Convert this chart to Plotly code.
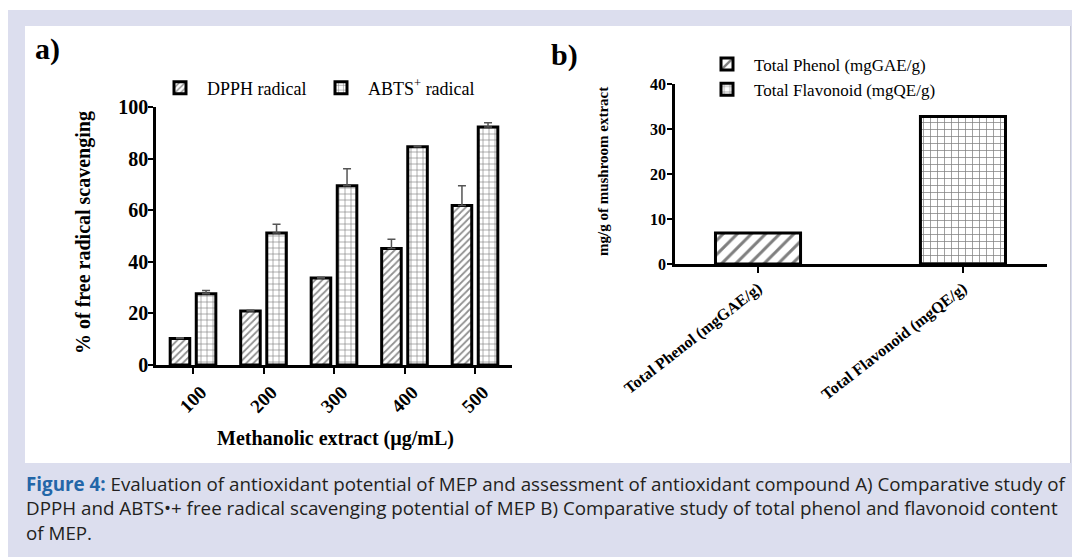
import plotly.graph_objects as go

# ---------------- data ----------------
concentrations = ["100", "200", "300", "400", "500"]
dpph = [10.3, 20.9, 33.7, 45.2, 61.8]
dpph_err = [0.3, 0.3, 0.3, 3.5, 7.7]
abts = [27.6, 51.2, 69.5, 84.6, 92.2]
abts_err = [1.3, 3.4, 6.6, 0.4, 1.7]

b_categories = ["Total Phenol (mgGAE/g)", "Total Flavonoid (mgQE/g)"]
b_values = [6.9, 32.8]

W, H = 1072, 558
def X(px): return px / W
def Y(py): return 1 - py / H

SERIF = "Liberation Serif"
LAV = "#dcdeee"

fig = go.Figure()

# ---------- panel a ----------
fig.add_trace(go.Bar(
    x=concentrations, y=dpph, name="DPPH radical",
    xaxis="x", yaxis="y", legend="legend",
    marker=dict(color="white", line=dict(color="black", width=3),
                pattern=dict(shape="/", fgcolor="#222", bgcolor="white", size=5, solidity=0.35)),
    error_y=dict(type="data", symmetric=False, array=dpph_err, arrayminus=[0]*5,
                 color="#555", thickness=1.5, width=4),
))
fig.add_trace(go.Bar(
    x=concentrations, y=abts, name="ABTS<sup>+</sup> radical",
    xaxis="x", yaxis="y", legend="legend2",
    marker=dict(color="white", line=dict(color="black", width=3),
                pattern=dict(shape="+", fgcolor="black", bgcolor="white", size=6, solidity=0.2)),
    error_y=dict(type="data", symmetric=False, array=abts_err, arrayminus=[0]*5,
                 color="#555", thickness=1.5, width=4),
))

# ---------- panel b ----------
b_shapes = ["/", "+"]
b_sizes = [10, 7]
b_sol = [0.3, 0.2]
for i, cat in enumerate(b_categories):
    fig.add_trace(go.Bar(
        x=[cat], y=[b_values[i]], name=cat,
        xaxis="x2", yaxis="y2", legend="legend3",
        offsetgroup="b", width=0.415,
        marker=dict(color="white", line=dict(color="black", width=3),
                    pattern=dict(shape=b_shapes[i], fgcolor="black", bgcolor="white",
                                 size=b_sizes[i], solidity=b_sol[i])),
    ))

axis_common = dict(showline=True, linecolor="black", linewidth=2.5, ticks="outside",
                   tickcolor="black", tickwidth=2, showgrid=False, zeroline=False,
                   automargin=False)

legend_common = dict(xanchor="left", yanchor="middle", bgcolor="rgba(0,0,0,0)", itemwidth=44)

fig.update_layout(
    width=W, height=H,
    margin=dict(l=0, r=0, t=0, b=0, autoexpand=False),
    paper_bgcolor="white", plot_bgcolor="rgba(0,0,0,0)",
    barmode="group", bargap=0.26, bargroupgap=0.25,
    xaxis=dict(domain=[X(156), X(512)], range=[-0.525, 4.525], type="category",
               anchor="y", tickangle=-45, ticklen=6, ticklabelshift=8,
               tickfont=dict(family=SERIF, size=19, color="black", weight="bold"),
               **axis_common),
    yaxis=dict(domain=[Y(365), Y(107)], range=[0, 100], anchor="x",
               tickvals=[0, 20, 40, 60, 80, 100], ticklen=5, ticklabelstandoff=-4,
               tickfont=dict(family=SERIF, size=20, color="black", weight="bold"),
               **axis_common),
    xaxis2=dict(domain=[X(675), X(1047)], range=[-0.405, 1.41], type="category",
                anchor="y2", tickangle=-38, ticklen=6,
                tickfont=dict(family=SERIF, size=16, color="black", weight="bold"),
                **axis_common),
    yaxis2=dict(domain=[Y(264), Y(84)], range=[0, 40], anchor="x2",
                tickvals=[0, 10, 20, 30, 40], ticklen=5, ticklabelstandoff=-2,
                tickfont=dict(family=SERIF, size=16, color="black", weight="bold"),
                **axis_common),
    legend=dict(x=X(153), y=Y(88), font=dict(family=SERIF, size=18, color="black"), **legend_common),
    legend2=dict(x=X(314), y=Y(88), font=dict(family=SERIF, size=18, color="black"), **legend_common),
    legend3=dict(x=X(700), y=Y(77), tracegroupgap=0,
                 font=dict(family=SERIF, size=17, color="black"), **legend_common),
    showlegend=True,
)

# ---------- background frame ----------
fig.add_shape(type="rect", xref="paper", yref="paper", layer="below",
              x0=X(8), x1=X(1072), y0=Y(557), y1=Y(10), fillcolor=LAV, line=dict(width=0))
fig.add_shape(type="rect", xref="paper", yref="paper", layer="below",
              x0=X(25), x1=X(1070), y0=Y(463), y1=Y(26), fillcolor="white", line=dict(width=0))
fig.add_shape(type="line", xref="paper", yref="paper", layer="below",
              x0=X(1070.5), x1=X(1070.5), y0=Y(463), y1=Y(26), line=dict(color="#c9cad6", width=1))

# ---------- text ----------
def ann(text, px, py, size, bold=True, angle=0, family=SERIF, xanchor="center", yanchor="middle", align="center", color="black"):
    fig.add_annotation(text=text, x=X(px), y=Y(py), xref="paper", yref="paper",
                       showarrow=False, textangle=angle, xanchor=xanchor, yanchor=yanchor, align=align,
                       font=dict(family=family, size=size, color=color, weight="bold" if bold else "normal"))

ann("a)", 47, 49, 30)
ann("b)", 564, 55, 30)
ann("% of free radical scavenging", 83, 233, 20, angle=-90)
ann("Methanolic extract (µg/mL)", 335, 438, 20)
ann("mg/g of mushroom extract", 603, 172, 15, angle=-90)

caption = ("<b><span style='color:#2366a8'>Figure 4:</span></b> Evaluation of antioxidant potential of MEP and "
           "assessment of antioxidant compound A) Comparative study of<br>"
           "DPPH and ABTS•+ free radical scavenging potential of MEP B) Comparative study of total phenol "
           "and flavonoid content<br>of MEP.")
ann(caption, 24, 469, 18.8, bold=False, family="Open Sans", xanchor="left", yanchor="top", align="left", color="#231f20")

fig.write_html("out.html", config={"displayModeBar": False},
               post_script="document.body.style.margin='0';document.body.style.overflow='hidden';")
